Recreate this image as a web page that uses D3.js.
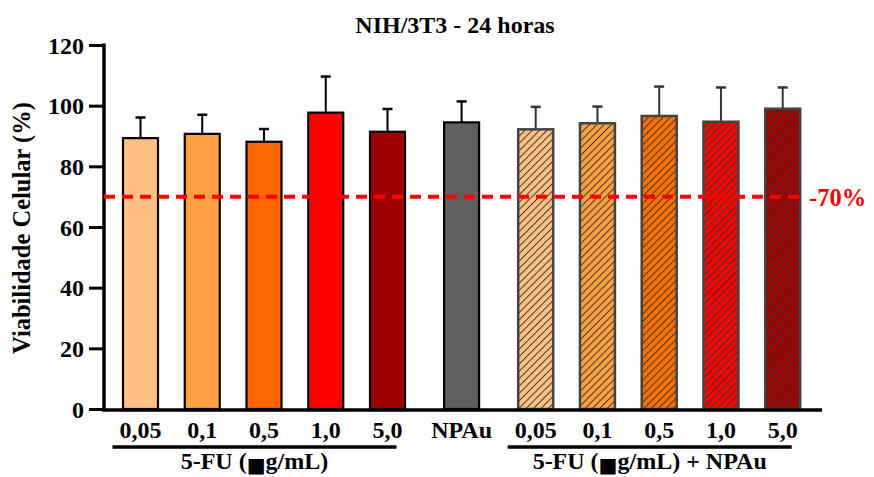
<!DOCTYPE html>
<html>
<head>
<meta charset="utf-8">
<script src="https://cdn.jsdelivr.net/npm/d3@7"></script>
<style>
  body { margin: 0; background: #fff; }
  svg text { font-family: "Liberation Serif", Tinos, "Times New Roman", Times, "DejaVu Serif", serif; font-weight: bold; }
</style>
</head>
<body>
<div id="chart"></div>
<script>
// dados
const categorias = ['0,05', '0,1', '0,5', '1,0', '5,0', 'NPAu', '0,05', '0,1', '0,5', '1,0', '5,0']
const grupoDe = [0, 0, 0, 0, 0, 1, 2, 2, 2, 2, 2]
const hachurado = [false, false, false, false, false, false, true, true, true, true, true]
const media = [89.3, 90.7, 88.1, 97.7, 91.4, 94.5, 92.2, 94.2, 96.6, 94.7, 99.0]
const desvio = [6.8, 6.3, 4.2, 11.9, 7.5, 6.9, 7.4, 5.5, 9.7, 11.3, 7.0]
const cores = ['#ffc183', '#ffa142', '#ff6600', '#ff0000', '#a00000', '#5f5f5f',
               '#ffc183', '#ffa142', '#ff7000', '#ff0000', '#a00000']
const yTicks = [0, 20, 40, 60, 80, 100, 120]
const grupos = [
    {nome: '5-FU (', bloco: '\u25A0', resto: 'g/mL)', de: 0, ate: 4},
    {nome: '5-FU (', bloco: '\u25A0', resto: 'g/mL) + NPAu', de: 6, ate: 10}
]
const limite = 70

const width = 874
const height = 477

const svg = d3.select('#chart').append('svg')
    .attr('width', width)
    .attr('height', height)

// padrão de hachura
const defs = svg.append('defs')
defs.append('pattern')
    .attr('id', 'hatch')
    .attr('patternUnits', 'userSpaceOnUse')
    .attr('width', 5.2)
    .attr('height', 5.2)
    .attr('patternTransform', 'rotate(45)')
    .append('line')
    .attr('x1', 0).attr('y1', 0).attr('x2', 0).attr('y2', 5.2)
    .attr('stroke', '#333')
    .attr('stroke-width', 1.9)

// posição de cada barra: índice + espaço extra entre grupos
const slot = categorias.map((c, i) => i + 0.2 * grupoDe[i])

const x = d3.scaleLinear()
    .domain([0, 1])
    .range([140.5, 202.25])

const y = d3.scaleLinear()
    .domain([0, 120])
    .range([409, 45])

const barW = 35

const dados = categorias.map((c, i) => ({
    cat: c,
    pos: slot[i],
    v: media[i],
    sd: desvio[i],
    cor: cores[i],
    hatch: hachurado[i]
}))

// título
svg.append('text')
    .attr('x', 455)
    .attr('y', 33)
    .attr('text-anchor', 'middle')
    .attr('font-size', 24)
    .text('NIH/3T3 - 24 horas')

// eixo y
const yAxis = svg.append('g')
    .attr('transform', 'translate(104,0)')
    .call(d3.axisLeft(y).tickValues(yTicks).tickSize(15).tickPadding(5))
yAxis.attr('font-family', null).attr('font-size', null)
yAxis.select('.domain').remove()
yAxis.selectAll('.tick line').attr('stroke', '#000').attr('stroke-width', 3)
yAxis.selectAll('.tick text')
    .attr('font-size', 24)
    .attr('dy', '0.34em')
    .attr('fill', '#000')

svg.append('line')
    .attr('x1', 104).attr('x2', 104)
    .attr('y1', y(120) - 1.5).attr('y2', y(0) + 1.5)
    .attr('stroke', '#000').attr('stroke-width', 3.5)

svg.append('text')
    .attr('transform', 'translate(30,228) rotate(-90)')
    .attr('text-anchor', 'middle')
    .attr('font-size', 24.5)
    .text('Viabilidade Celular (%)')

// barras
const barras = svg.append('g')
const g = barras.selectAll('g')
    .data(dados)
    .join('g')

// barras de erro (só para cima)
g.append('line')
    .attr('x1', d => x(d.pos)).attr('x2', d => x(d.pos))
    .attr('y1', d => y(d.v)).attr('y2', d => y(d.v + d.sd))
    .attr('stroke', d => d.hatch ? '#333' : '#000')
    .attr('stroke-width', 2)
g.append('line')
    .attr('x1', d => x(d.pos) - 5).attr('x2', d => x(d.pos) + 5)
    .attr('y1', d => y(d.v + d.sd)).attr('y2', d => y(d.v + d.sd))
    .attr('stroke', d => d.hatch ? '#333' : '#000')
    .attr('stroke-width', 2.5)

g.append('rect')
    .attr('x', d => x(d.pos) - barW / 2)
    .attr('y', d => y(d.v))
    .attr('width', barW)
    .attr('height', d => y(0) - y(d.v))
    .attr('fill', d => d.cor)

g.filter(d => d.hatch).append('rect')
    .attr('x', d => x(d.pos) - barW / 2)
    .attr('y', d => y(d.v))
    .attr('width', barW)
    .attr('height', d => y(0) - y(d.v))
    .attr('fill', 'url(#hatch)')

g.append('rect')
    .attr('x', d => x(d.pos) - barW / 2)
    .attr('y', d => y(d.v))
    .attr('width', barW)
    .attr('height', d => y(0) - y(d.v))
    .attr('fill', 'none')
    .attr('stroke', d => d.hatch ? '#444' : '#000')
    .attr('stroke-width', d => d.hatch ? 2.5 : 2.2)

// linha de 70%
svg.append('line')
    .attr('x1', 104)
    .attr('x2', 803)
    .attr('y1', y(limite)).attr('y2', y(limite))
    .attr('stroke', '#ff0000')
    .attr('stroke-width', 4)
    .attr('stroke-dasharray', '11,7')

svg.append('text')
    .attr('x', 809)
    .attr('y', y(limite) + 9)
    .attr('fill', '#ff0000')
    .attr('font-size', 24.5)
    .text('-70%')

// eixo x
svg.append('line')
    .attr('x1', 102).attr('x2', 822)
    .attr('y1', y(0) + 1).attr('y2', y(0) + 1)
    .attr('stroke', '#000').attr('stroke-width', 3.5)

svg.append('g')
    .selectAll('text')
    .data(dados)
    .join('text')
    .attr('x', d => x(d.pos))
    .attr('y', 438)
    .attr('text-anchor', 'middle')
    .attr('font-size', 24)
    .text(d => d.cat)

// grupos
const gg = svg.append('g')
    .selectAll('g')
    .data(grupos)
    .join('g')

gg.append('line')
    .attr('x1', d => x(slot[d.de]) - 28)
    .attr('x2', d => x(slot[d.ate]) + 9)
    .attr('y1', 447).attr('y2', 447)
    .attr('stroke', '#000').attr('stroke-width', 3.5)

const rotulo = gg.append('text')
    .attr('x', d => (x(slot[d.de]) - 28 + x(slot[d.ate]) + 9) / 2)
    .attr('y', 469)
    .attr('text-anchor', 'middle')
    .attr('font-size', 24)
rotulo.append('tspan').text(d => d.nome)
rotulo.append('tspan')
    .attr('font-family', '"DejaVu Sans", sans-serif')
    .attr('font-size', 20)
    .attr('dy', 3)
    .text(d => d.bloco)
rotulo.append('tspan').attr('dy', -3).text(d => d.resto)
</script>
</body>
</html>
